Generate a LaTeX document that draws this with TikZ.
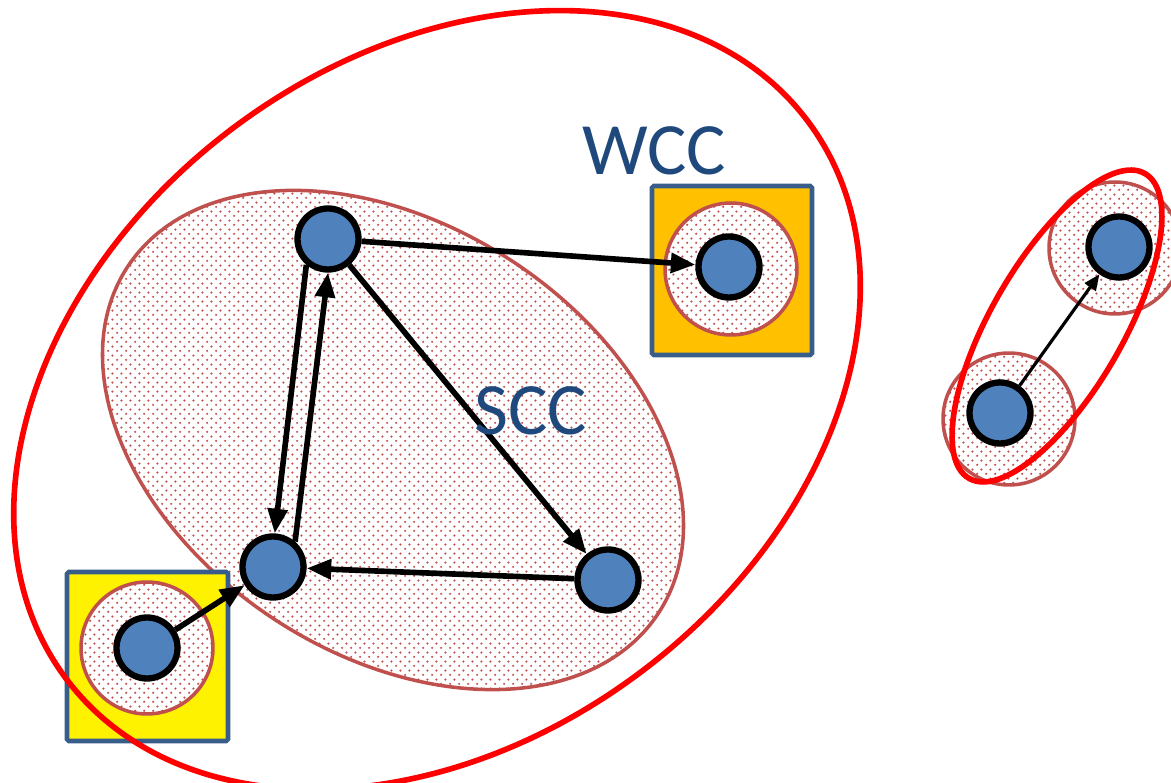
\documentclass[tikz,border=0pt]{standalone}
\usepackage{fontspec}
\setmainfont{Carlito}
\usetikzlibrary{arrows.meta,patterns.meta}
\definecolor{nodeblue}{HTML}{4F81BD}
\definecolor{dotred}{HTML}{C0504D}
\definecolor{boxblue}{HTML}{385D8A}
\definecolor{txtblue}{HTML}{1F497D}
\definecolor{gold}{HTML}{FFC000}
\tikzdeclarepattern{
  name=sccdots,
  type=uncolored,
  bounding box={(0pt,0pt) and (5pt,5pt)},
  tile size={(5pt,5pt)},
  code={
    \fill (1.25pt,1.25pt) circle [radius=0.7pt];
    \fill (3.75pt,3.75pt) circle [radius=0.7pt];
  }
}
\begin{document}
\begin{tikzpicture}[x=0.02cm,y=-0.02cm,
  vert/.style={circle,draw=black,fill=nodeblue,line width=3.6pt,minimum size=1.22cm,inner sep=0pt},
  dotfill/.style={draw=dotred,line width=2pt,preaction={fill=white},pattern=sccdots,pattern color=dotred},
  comp/.style={draw=red,line width=3.2pt},
  boxstyle/.style={draw=boxblue,line width=2.6pt,rounded corners=1pt},
  arr/.style={line width=3.2pt,-{Triangle[length=14pt,width=11pt]}},
  thinarr/.style={line width=1.8pt,-{Triangle[length=9pt,width=7.5pt]}},
  lab/.style={text=txtblue,font=\fontsize{42}{50}\selectfont,inner sep=0pt}]
\useasboundingbox (0,0) rectangle (1171,783);
% SCC ellipse
\path[dotfill, rotate around={-33:(393,440)}] (393,440) ellipse [x radius=6.34cm, y radius=4.3cm];
% boxes
\path[boxstyle, fill=yellow] (67,572) rectangle (228,741);
\path[boxstyle, fill=gold] (652,186) rectangle (812,355);
% dotted single-node components
\path[dotfill] (731,269) circle [radius=1.32cm];
\path[dotfill] (147,648) circle [radius=1.32cm];
\path[dotfill] (1009,419) circle [radius=1.32cm];
\path[dotfill] (1115,248) circle [radius=1.32cm];
% weakly connected components
\path[comp, rotate around={37:(437,400)}] (437,400) ellipse [x radius=9.28cm, y radius=6.8cm];
\path[comp, rotate around={60:(1057,326)}] (1057,326) ellipse [x radius=3.52cm, y radius=1.32cm];
% nodes
\node[vert] (A) at (328,239) {};
\node[vert] (B) at (273,567) {};
\node[vert] (C) at (608,580) {};
\node[vert] (D) at (729,267) {};
\node[vert] (E) at (147,648) {};
\node[vert] (F) at (1000,413) {};
\node[vert] (G) at (1119,247) {};
% edges
\draw[arr] (A) -- (D);
\draw[arr] (A) -- (C);
\draw[arr] (A.230) -- (B.87);
\draw[arr] (B.49) -- (A.270);
\draw[arr] (C) -- (B);
\draw[arr] (E) -- (B);
\draw[thinarr] (F) -- (G);
% labels
\node[lab] (wcc) at (654,151) {WCC};
\node[lab] (scc) at (531,411) {SCC};
\end{tikzpicture}
\end{document}
